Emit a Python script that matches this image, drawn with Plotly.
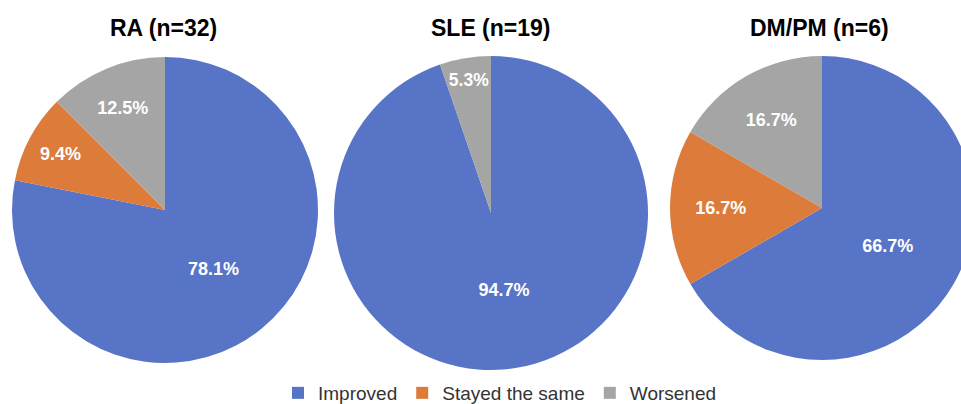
import plotly.graph_objects as go

categories = ["Improved", "Stayed the same", "Worsened"]
groups = ["RA (n=32)", "SLE (n=19)", "DM/PM (n=6)"]
ra_counts = [25, 3, 4]
sle_counts = [18, 0, 1]
dmpm_counts = [4, 1, 1]

colors = ["#5874C6", "#DC7B3A", "#A5A5A5"]

W, H = 975, 412
FONT = "Liberation Sans, Arial, sans-serif"


def px_domain(x0, x1, y0, y1):
    return dict(x=[x0 / W, x1 / W], y=[1 - y1 / H, 1 - y0 / H])


domains = [
    px_domain(12, 318, 57, 363),
    px_domain(334, 648, 56, 370),
    px_domain(670, 974, 56, 360),
]
title_x = [163, 491, 819]

fig = go.Figure()
for i, (name, counts) in enumerate(zip(groups, [ra_counts, sle_counts, dmpm_counts])):
    total = sum(counts)
    texts = [f"{100 * c / total:.1f}%" if c > 0 else "" for c in counts]
    fig.add_trace(go.Pie(
        labels=categories,
        values=counts,
        text=texts,
        textinfo="text",
        textposition="inside",
        insidetextorientation="horizontal",
        textfont=dict(family=FONT, size=18, color="white", weight="bold"),
        marker=dict(colors=colors, line=dict(width=0)),
        sort=False,
        direction="clockwise",
        rotation=0,
        domain=domains[i],
        showlegend=(i == 0),
        hoverinfo="label+percent",
    ))
    fig.add_annotation(
        x=title_x[i] / W, y=1 - 28 / H, xref="paper", yref="paper",
        text=f"<b>{name}</b>", showarrow=False,
        font=dict(family=FONT, size=23, color="black"),
        xanchor="center", yanchor="middle",
    )

fig.update_layout(
    width=W, height=H,
    margin=dict(l=0, r=0, t=0, b=0),
    paper_bgcolor="white",
    plot_bgcolor="white",
    legend=dict(
        orientation="h", x=500 / W, y=0, xanchor="center", yanchor="bottom",
        font=dict(family=FONT, size=19, color="#333333"),
        itemwidth=30, tracegroupgap=0,
    ),
)

fig.write_html(
    "out.html",
    config={"displayModeBar": False},
    post_script="document.body.style.margin='0';document.body.style.overflow='hidden';document.documentElement.style.overflow='hidden';",
)
